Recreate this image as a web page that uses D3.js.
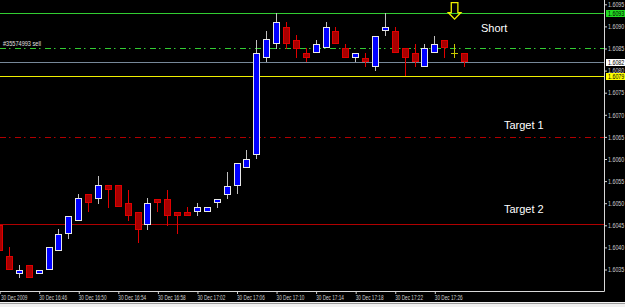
<!DOCTYPE html>

<html>
<head>
    <script src="https://d3js.org/d3.v7.min.js"></script>
<style>
  body { margin: 0; background: #000; }
  svg { display: block; }
  text { font-family: "Liberation Sans", Arial, sans-serif; }
</style>
</head>
<body>
    <div id="Chart">
    </div>
    <script>

// 1 minute bars, 30 Dec 2009
var times = ["16:42","16:43","16:44","16:45","16:46","16:47","16:48","16:49","16:50","16:51",
             "16:52","16:53","16:54","16:55","16:56","16:57","16:58","16:59","17:00","17:01",
             "17:02","17:03","17:04","17:05","17:06","17:07","17:08","17:09","17:10","17:11",
             "17:12","17:13","17:14","17:15","17:16","17:17","17:18","17:19","17:20","17:21",
             "17:22","17:23","17:24","17:25","17:26","17:27","17:28","17:29"];
var open  = [1.60451,1.60381,1.60340,1.60360,1.60340,1.60350,1.60391,1.60430,1.60460,1.60521,
             1.60509,1.60541,1.60541,1.60500,1.60481,1.60450,1.60510,1.60510,1.60481,1.60481,
             1.60480,1.60480,1.60500,1.60519,1.60540,1.60580,1.60609,1.60829,1.60860,1.60899,
             1.60869,1.60839,1.60839,1.60850,1.60890,1.60850,1.60829,1.60829,1.60809,1.60890,
             1.60890,1.60850,1.60839,1.60809,1.60839,1.60869,1.60839,1.60839];
var high  = [1.60451,1.60401,1.60360,1.60360,1.60350,1.60400,1.60441,1.60471,1.60521,1.60521,
             1.60562,1.60541,1.60541,1.60530,1.60481,1.60511,1.60510,1.60530,1.60481,1.60491,
             1.60500,1.60491,1.60510,1.60570,1.60590,1.60620,1.60869,1.60890,1.60930,1.60909,
             1.60881,1.60850,1.60869,1.60909,1.60899,1.60860,1.60839,1.60839,1.60879,1.60930,
             1.60899,1.60850,1.60860,1.60860,1.60879,1.60869,1.60860,1.60839];
var low   = [1.60391,1.60350,1.60330,1.60330,1.60340,1.60350,1.60391,1.60420,1.60460,1.60479,
             1.60499,1.60490,1.60491,1.60460,1.60410,1.60439,1.60480,1.60449,1.60430,1.60470,
             1.60471,1.60480,1.60490,1.60510,1.60520,1.60580,1.60599,1.60819,1.60849,1.60849,
             1.60829,1.60819,1.60839,1.60850,1.60860,1.60829,1.60819,1.60809,1.60799,1.60879,
             1.60839,1.60788,1.60809,1.60809,1.60839,1.60829,1.60829,1.60809];
var close = [1.60391,1.60350,1.60350,1.60330,1.60350,1.60400,1.60430,1.60471,1.60511,1.60500,
             1.60541,1.60529,1.60491,1.60470,1.60440,1.60500,1.60500,1.60470,1.60470,1.60470,
             1.60491,1.60491,1.60510,1.60540,1.60590,1.60600,1.60839,1.60871,1.60909,1.60860,
             1.60849,1.60829,1.60860,1.60899,1.60860,1.60829,1.60839,1.60819,1.60879,1.60899,
             1.60839,1.60829,1.60819,1.60850,1.60860,1.60850,1.60839,1.60819];

// axis ticks
var priceTicks = [1.6035,1.6040,1.6045,1.6050,1.6055,1.6060,1.6065,1.6070,1.6075,1.6080,1.6085,1.6090,1.6095];
var timeTicks = ["16:42","16:46","16:50","16:54","16:58","17:02","17:06","17:10","17:14","17:18","17:22","17:26"];
var timeTickLabels = ["30 Dec 2009","30 Dec 16:46","30 Dec 16:50","30 Dec 16:54","30 Dec 16:58","30 Dec 17:02",
                      "30 Dec 17:06","30 Dec 17:10","30 Dec 17:14","30 Dec 17:18","30 Dec 17:22","30 Dec 17:26"];

// horizontal lines on the chart
var levelNames  = ["stop","sell","bid","yellow","target1","target2"];
var levelPrices = [1.6093, 1.6085, 1.60819, 1.60787, 1.6065, 1.60454];
var orderLabel = "#35574993 sell";

// text objects
var notes      = ["Short","Target 1","Target 2"];
var noteTimes  = ["17:32","17:35","17:35"];
var notePrices = [1.60887, 1.60668, 1.60478];

// down arrow object
var arrowTime = "17:28", arrowPrice = 1.60954;

var width = 625, height = 307,
    plotRight = 604, plotBottom = 291,
    squeeze = 0.76,    // the terminal font is narrow
    squeezeX = 0.67;

var parse = d3.timeParse("%H:%M");

var svg = d3.select("#Chart")
  .append("svg")
    .attr("width", width)
    .attr("height", height);

svg.append("rect")
    .attr("width", width)
    .attr("height", height)
    .attr("fill", "#000");

var x = d3.scaleTime()
    .domain([parse("16:42"), parse("17:29")])
    .range([-0.36, 464.47]);

var y = d3.scaleLinear()
    .domain([1.6035, 1.6095])
    .range([269.5, 4.3]);

var fmt = d3.format(".4f");

svg.append("clipPath").attr("id", "plot")
  .append("rect")
    .attr("width", plotRight)
    .attr("height", plotBottom);

var plot = svg.append("g").attr("clip-path", "url(#plot)");

// level lines
var lineStyle = {
  stop:    {color: "#32cd32", dash: null},
  sell:    {color: "#32cd32", dash: "6,3,1.5,4.5"},
  bid:     {color: "#778899", dash: null},
  yellow:  {color: "#f0f000", dash: null},
  target1: {color: "#b00000", dash: "6,3,1.5,4.5"},
  target2: {color: "#b00000", dash: null}
};

plot.selectAll("line.level")
  .data(levelPrices)
  .enter()
  .append("line")
    .attr("class", "level")
    .attr("x1", 0)
    .attr("x2", plotRight)
    .attr("y1", function (d) { return Math.round(y(d)) + 0.5; })
    .attr("y2", function (d) { return Math.round(y(d)) + 0.5; })
    .attr("stroke", function (d, i) { return lineStyle[levelNames[i]].color; })
    .attr("stroke-dasharray", function (d, i) { return lineStyle[levelNames[i]].dash; })
    .attr("stroke-width", 1);

plot.append("text")
    .attr("transform", "translate(3," + (Math.round(y(levelPrices[1])) - 2) + ") scale(0.8,1)")
    .attr("font-size", 7)
    .attr("fill", "#e0e0e0")
    .text(orderLabel);

// candles
var bars = times.map(function (t, i) {
  return {t: parse(t), o: open[i], h: high[i], l: low[i], c: close[i]};
});

var candle = plot.selectAll("g.bar")
  .data(bars)
  .enter()
  .append("g")
    .attr("class", "bar");

candle.each(function (d) {
  var g = d3.select(this);
  var left = Math.floor(x(d.t)) - 3;
  var cx = left + 3.5;
  var up = d.c > d.o, doji = d.c == d.o;
  var wickColor = doji ? "#c8c800" : (up ? "#c0c0c0" : "#e00000");

  g.append("line")
      .attr("x1", cx).attr("x2", cx)
      .attr("y1", Math.round(y(d.h)))
      .attr("y2", Math.round(y(d.l)))
      .attr("stroke", wickColor);

  if (doji) {
    g.append("line")
        .attr("x1", left).attr("x2", left + 7)
        .attr("y1", Math.round(y(d.o)) + 0.5)
        .attr("y2", Math.round(y(d.o)) + 0.5)
        .attr("stroke", wickColor);
    return;
  }
  var top = Math.round(y(Math.max(d.o, d.c))),
      bottom = Math.round(y(Math.min(d.o, d.c)));
  g.append("rect")
      .attr("x", left + 0.5)
      .attr("y", top + 0.5)
      .attr("width", 6)
      .attr("height", Math.max(bottom - top - 1, 1))
      .attr("fill", up ? "#0000ff" : "#a80000")
      .attr("stroke", up ? "#e8e8e8" : "#e00000")
      .attr("stroke-width", 1);
});

// arrow
var ax = x(parse(arrowTime)), ay = y(arrowPrice);
plot.append("path")
    .attr("d", "M" + (ax - 3.3) + "," + ay + " H" + (ax + 3.3) + " V" + (ay + 10) +
               " H" + (ax + 6.3) + " L" + ax + "," + (ay + 16.6) + " L" + (ax - 6.3) + "," + (ay + 10) +
               " H" + (ax - 3.3) + " Z")
    .attr("fill", "none")
    .attr("stroke", "#f0f000")
    .attr("stroke-width", 1.3);

// notes
plot.selectAll("text.note")
  .data(notes)
  .enter()
  .append("text")
    .attr("class", "note")
    .attr("x", function (d, i) { return x(parse(noteTimes[i])); })
    .attr("y", function (d, i) { return y(notePrices[i]); })
    .attr("text-anchor", "middle")
    .attr("font-size", 11)
    .attr("fill", "#ffffff")
    .text(function (d) { return d; });

// right price axis
var yAxis = svg.append("g")
    .attr("transform", "translate(" + plotRight + ",0)")
    .call(d3.axisRight(y).tickValues(priceTicks).tickSize(3).tickFormat(fmt));
yAxis.select(".domain").remove();
yAxis.selectAll("line").attr("stroke", "#d0d0d0");
yAxis.selectAll("text")
    .attr("fill", "#d0d0d0")
    .attr("font-size", 7)
    .attr("font-family", "Liberation Sans, Arial, sans-serif")
    .attr("x", 4 / squeeze)
    .attr("transform", "scale(" + squeeze + ",1)");

svg.append("line")
    .attr("x1", plotRight + 0.5).attr("x2", plotRight + 0.5)
    .attr("y1", 0).attr("y2", plotBottom + 0.5)
    .attr("stroke", "#d8d8d8");

// price tags
var tagLevels = [0, 2, 3];
var tagColors = ["#22dd22", "#ffffff", "#ffff00"];
svg.selectAll("g.tag")
  .data(tagLevels)
  .enter()
  .append("g")
    .attr("class", "tag")
    .each(function (d, i) {
      var g = d3.select(this), py = Math.round(y(levelPrices[d]));
      g.append("rect")
          .attr("x", plotRight + 2)
          .attr("y", py - 3)
          .attr("width", width - plotRight - 2)
          .attr("height", 7)
          .attr("fill", tagColors[i]);
      g.append("text")
          .attr("transform", "translate(" + (plotRight + 4) + "," + (py + 3) + ") scale(" + squeeze + ",1)")
          .attr("font-size", 7)
          .attr("fill", "#000")
          .text(fmt(levelPrices[d]));
    });

// bottom time axis
var xAxis = svg.append("g")
    .attr("transform", "translate(0," + plotBottom + ")")
    .call(d3.axisBottom(x).tickValues(timeTicks.map(parse)).tickSize(3)
      .tickFormat(function (d, i) { return timeTickLabels[i]; }));
xAxis.select(".domain").remove();
xAxis.selectAll("line").attr("stroke", "#d0d0d0");
xAxis.selectAll("text")
    .attr("fill", "#d0d0d0")
    .attr("font-size", 7)
    .attr("font-family", "Liberation Sans, Arial, sans-serif")
    .attr("text-anchor", "start")
    .attr("x", function (d, i) { return (i == 0 ? 0.8 : -0.5) / squeezeX; })
    .attr("y", 9)
    .attr("dy", 0)
    .attr("transform", "scale(" + squeezeX + ",1)");

svg.append("line")
    .attr("x1", 0).attr("x2", plotRight + 0.5)
    .attr("y1", plotBottom + 0.5).attr("y2", plotBottom + 0.5)
    .attr("stroke", "#d8d8d8");

// window strip under the chart
svg.append("rect")
    .attr("x", 0).attr("y", 302)
    .attr("width", width).attr("height", 5)
    .attr("fill", "#f0f0f0");
svg.append("line")
    .attr("x1", 0).attr("x2", width)
    .attr("y1", 303.5).attr("y2", 303.5)
    .attr("stroke", "#9a9a9a");

</script>
</body>
</html>
